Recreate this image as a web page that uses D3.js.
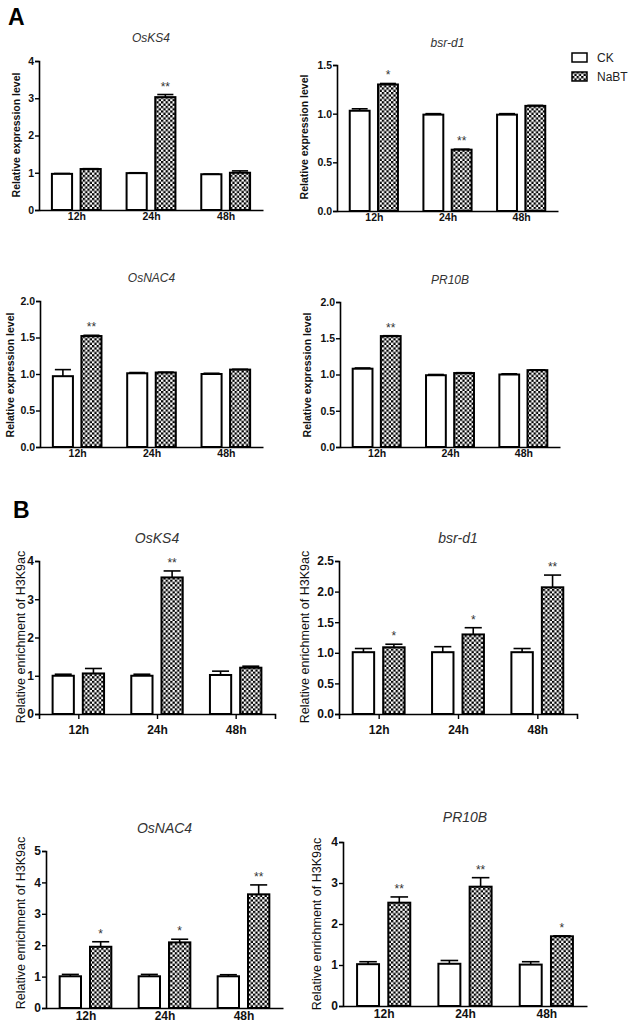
<!DOCTYPE html>
<html>
<head>
<meta charset="utf-8">
<script src="https://cdn.jsdelivr.net/npm/d3@7"></script>
<style>
  body { margin: 0; background: #fff; }
  svg { display: block; font-family: Arial, "Liberation Sans", sans-serif; }
</style>
</head>
<body>
<svg id="chart" width="629" height="1028"></svg>
<script>
"use strict";

// data
const times = ["12h", "24h", "48h"];
const genes = ["OsKS4", "bsr-d1", "OsNAC4", "PR10B"];

// A: relative expression level
const exprCK = [[0.97, 0.99, 0.96], [1.03, 0.99, 0.99], [0.97, 1.01, 1.00], [1.08, 0.99, 1.00]];
const exprCKErr = [[0.01, 0.01, 0.005], [0.02, 0.01, 0.01], [0.09, 0.01, 0.01], [0.01, 0.01, 0.01]];
const exprNaBT = [[1.10, 3.03, 1.00], [1.30, 0.63, 1.08], [1.52, 1.02, 1.06], [1.53, 1.02, 1.06]];
const exprNaBTErr = [[0.01, 0.07, 0.05], [0.01, 0.005, 0.005], [0.01, 0.005, 0.005], [0.005, 0.005, 0.005]];
const exprStars = [["", "**", ""], ["*", "**", ""], ["**", "", ""], ["**", "", ""]];

// B: relative enrichment of H3K9ac
const enrCK = [[1.00, 1.00, 1.02], [1.01, 1.01, 1.01], [1.01, 1.01, 1.01], [1.02, 1.03, 1.01]];
const enrCKErr = [[0.04, 0.04, 0.10], [0.06, 0.09, 0.06], [0.06, 0.06, 0.05], [0.06, 0.08, 0.07]];
const enrNaBT = [[1.06, 3.57, 1.21], [1.09, 1.30, 2.07], [1.95, 2.09, 3.62], [2.52, 2.91, 1.70]];
const enrNaBTErr = [[0.13, 0.17, 0.04], [0.05, 0.11, 0.20], [0.16, 0.10, 0.30], [0.14, 0.22, 0.01]];
const enrStars = [["", "**", ""], ["*", "*", "**"], ["*", "*", "**"], ["**", "**", "*"]];

const exprTicks = [[0, 1, 2, 3, 4], [0, 0.5, 1.0, 1.5], [0, 0.5, 1.0, 1.5, 2.0], [0, 0.5, 1.0, 1.5, 2.0]];
const enrTicks = [[0, 1, 2, 3, 4], [0, 0.5, 1.0, 1.5, 2.0, 2.5], [0, 1, 2, 3, 4, 5], [0, 1, 2, 3, 4]];
const series = ["CK", "NaBT"];

// panel geometry (pixels)
const panels = [
  { part: "A", g: 0, x0: 39, x1: 263, yTop: 61, yBot: 210, titleY: 42, labX: 17, labY: 135, fmt: "d" },
  { part: "A", g: 1, x0: 337, x1: 558, yTop: 65, yBot: 211, titleY: 47, labX: 305, labY: 137, fmt: ".1f" },
  { part: "A", g: 2, x0: 40, x1: 263, yTop: 301, yBot: 447, titleY: 282, labX: 11, labY: 375, fmt: ".1f" },
  { part: "A", g: 3, x0: 340, x1: 560, yTop: 302, yBot: 447, titleY: 284, labX: 308, labY: 375, fmt: ".1f" },
  { part: "B", g: 0, x0: 39, x1: 275, yTop: 561, yBot: 714, titleY: 543, labX: 22, labY: 637, fmt: "d", xTicks: true },
  { part: "B", g: 1, x0: 339, x1: 577, yTop: 561, yBot: 714, titleY: 543, labX: 306, labY: 637, fmt: ".1f", xTicks: true },
  { part: "B", g: 2, x0: 46, x1: 283, yTop: 851, yBot: 1008, titleY: 833, labX: 22, labY: 923, fmt: "d" },
  { part: "B", g: 3, x0: 343, x1: 587, yTop: 842, yBot: 1006, titleY: 822, labX: 318, labY: 924, fmt: "d" }
];

const svg = d3.select("#chart");

const pat = svg.append("defs").append("pattern")
  .attr("id", "checker")
  .attr("patternUnits", "userSpaceOnUse")
  .attr("width", 4.6).attr("height", 4.6);
pat.append("rect").attr("width", 4.6).attr("height", 4.6).attr("fill", "#fff");
pat.append("rect").attr("width", 2.3).attr("height", 2.3).attr("fill", "#000");
pat.append("rect").attr("x", 2.3).attr("y", 2.3).attr("width", 2.3).attr("height", 2.3).attr("fill", "#000");

const fills = ["#fff", "url(#checker)"];

function drawPanel(p) {
  const isA = p.part === "A";
  const ck = isA ? exprCK[p.g] : enrCK[p.g];
  const ckErr = isA ? exprCKErr[p.g] : enrCKErr[p.g];
  const nb = isA ? exprNaBT[p.g] : enrNaBT[p.g];
  const nbErr = isA ? exprNaBTErr[p.g] : enrNaBTErr[p.g];
  const stars = isA ? exprStars[p.g] : enrStars[p.g];
  const ticks = isA ? exprTicks[p.g] : enrTicks[p.g];

  const x = d3.scalePoint().domain(times).range([p.x0, p.x1]).padding(0.5);
  const y = d3.scaleLinear().domain([0, d3.max(ticks)]).range([p.yBot, p.yTop]);
  const L = p.x1 - p.x0;
  const bw = L * 0.09;
  const off = L * 0.064;

  const g = svg.append("g");
  const tickFont = isA ? 10.5 : 12;

  // y axis
  const yAxis = g.append("g")
    .attr("transform", `translate(${p.x0},0)`)
    .call(d3.axisLeft(y).tickValues(ticks).tickFormat(d3.format(p.fmt)).tickSizeOuter(0).tickSize(4));
  yAxis.select(".domain").attr("stroke-width", 1.6);
  yAxis.selectAll(".tick line").attr("stroke-width", 1.4);
  yAxis.selectAll(".tick text").attr("font-size", tickFont).attr("font-weight", "bold")
    .attr("fill", "#111").attr("x", -5);

  const rows = [];
  times.forEach((t, i) => {
    rows.push({ t, s: 0, v: ck[i], e: ckErr[i], star: "" });
    rows.push({ t, s: 1, v: nb[i], e: nbErr[i], star: stars[i] });
  });

  // error bars (upward only)
  const eb = g.selectAll(".err").data(rows).enter().append("g").attr("class", "err");
  eb.append("line")
    .attr("x1", d => x(d.t) + (d.s ? off : -off))
    .attr("x2", d => x(d.t) + (d.s ? off : -off))
    .attr("y1", d => y(d.v)).attr("y2", d => y(d.v + d.e))
    .attr("stroke", "#000").attr("stroke-width", 1.6);
  eb.append("line")
    .attr("x1", d => x(d.t) + (d.s ? off : -off) - bw * 0.4)
    .attr("x2", d => x(d.t) + (d.s ? off : -off) + bw * 0.4)
    .attr("y1", d => y(d.v + d.e)).attr("y2", d => y(d.v + d.e))
    .attr("stroke", "#000").attr("stroke-width", 1.6);

  // bars
  g.selectAll(".bar").data(rows).enter().append("rect")
    .attr("class", "bar")
    .attr("x", d => x(d.t) + (d.s ? off : -off) - bw / 2)
    .attr("y", d => y(d.v))
    .attr("width", bw)
    .attr("height", d => y(0) - y(d.v))
    .attr("fill", d => fills[d.s])
    .attr("stroke", "#000").attr("stroke-width", 2);

  // significance stars
  g.selectAll(".star").data(rows.filter(d => d.star)).enter().append("text")
    .attr("class", "star")
    .attr("x", d => x(d.t) + off)
    .attr("y", d => y(d.v + d.e) - 4)
    .attr("text-anchor", "middle")
    .attr("font-size", 12).attr("fill", "#333")
    .text(d => d.star);

  // x axis
  const xAxis = g.append("g")
    .attr("transform", `translate(0,${p.yBot})`)
    .call(d3.axisBottom(x).tickSizeOuter(0).tickSize(p.xTicks ? 5 : 0).tickPadding(p.xTicks ? 6 : 3));
  xAxis.select(".domain").attr("stroke-width", 1.6);
  xAxis.selectAll(".tick line").attr("stroke-width", 1.4);
  xAxis.selectAll(".tick text").attr("font-size", tickFont).attr("font-weight", "bold").attr("fill", "#111");

  // title
  g.append("text")
    .attr("x", (p.x0 + p.x1) / 2)
    .attr("y", p.titleY)
    .attr("text-anchor", "middle")
    .attr("font-style", "italic")
    .attr("font-size", isA ? 12 : 14)
    .attr("fill", "#333")
    .text(genes[p.g]);

  // y label
  g.append("text")
    .attr("transform", `translate(${p.labX},${p.labY}) rotate(-90)`)
    .attr("text-anchor", "middle")
    .attr("dominant-baseline", "middle")
    .attr("font-size", isA ? 10.5 : 12.5)
    .attr("font-weight", isA ? "bold" : "normal")
    .attr("fill", "#111")
    .text(isA ? "Relative expression level" : "Relative enrichment of H3K9ac");
}

panels.forEach(drawPanel);

// panel letters
svg.append("text").attr("x", 8).attr("y", 25).attr("font-size", 23).attr("font-weight", "bold").text("A");
svg.append("text").attr("x", 13).attr("y", 518).attr("font-size", 23).attr("font-weight", "bold").text("B");

// legend
const legend = svg.append("g").attr("transform", "translate(572,53)");
series.forEach((s, i) => {
  legend.append("rect")
    .attr("x", 0).attr("y", i * 19)
    .attr("width", 15).attr("height", 9)
    .attr("fill", fills[i]).attr("stroke", "#000").attr("stroke-width", 1.5);
  legend.append("text")
    .attr("x", 25).attr("y", i * 19 + 9)
    .attr("font-size", 12).attr("fill", "#222")
    .text(s);
});
</script>
</body>
</html>
